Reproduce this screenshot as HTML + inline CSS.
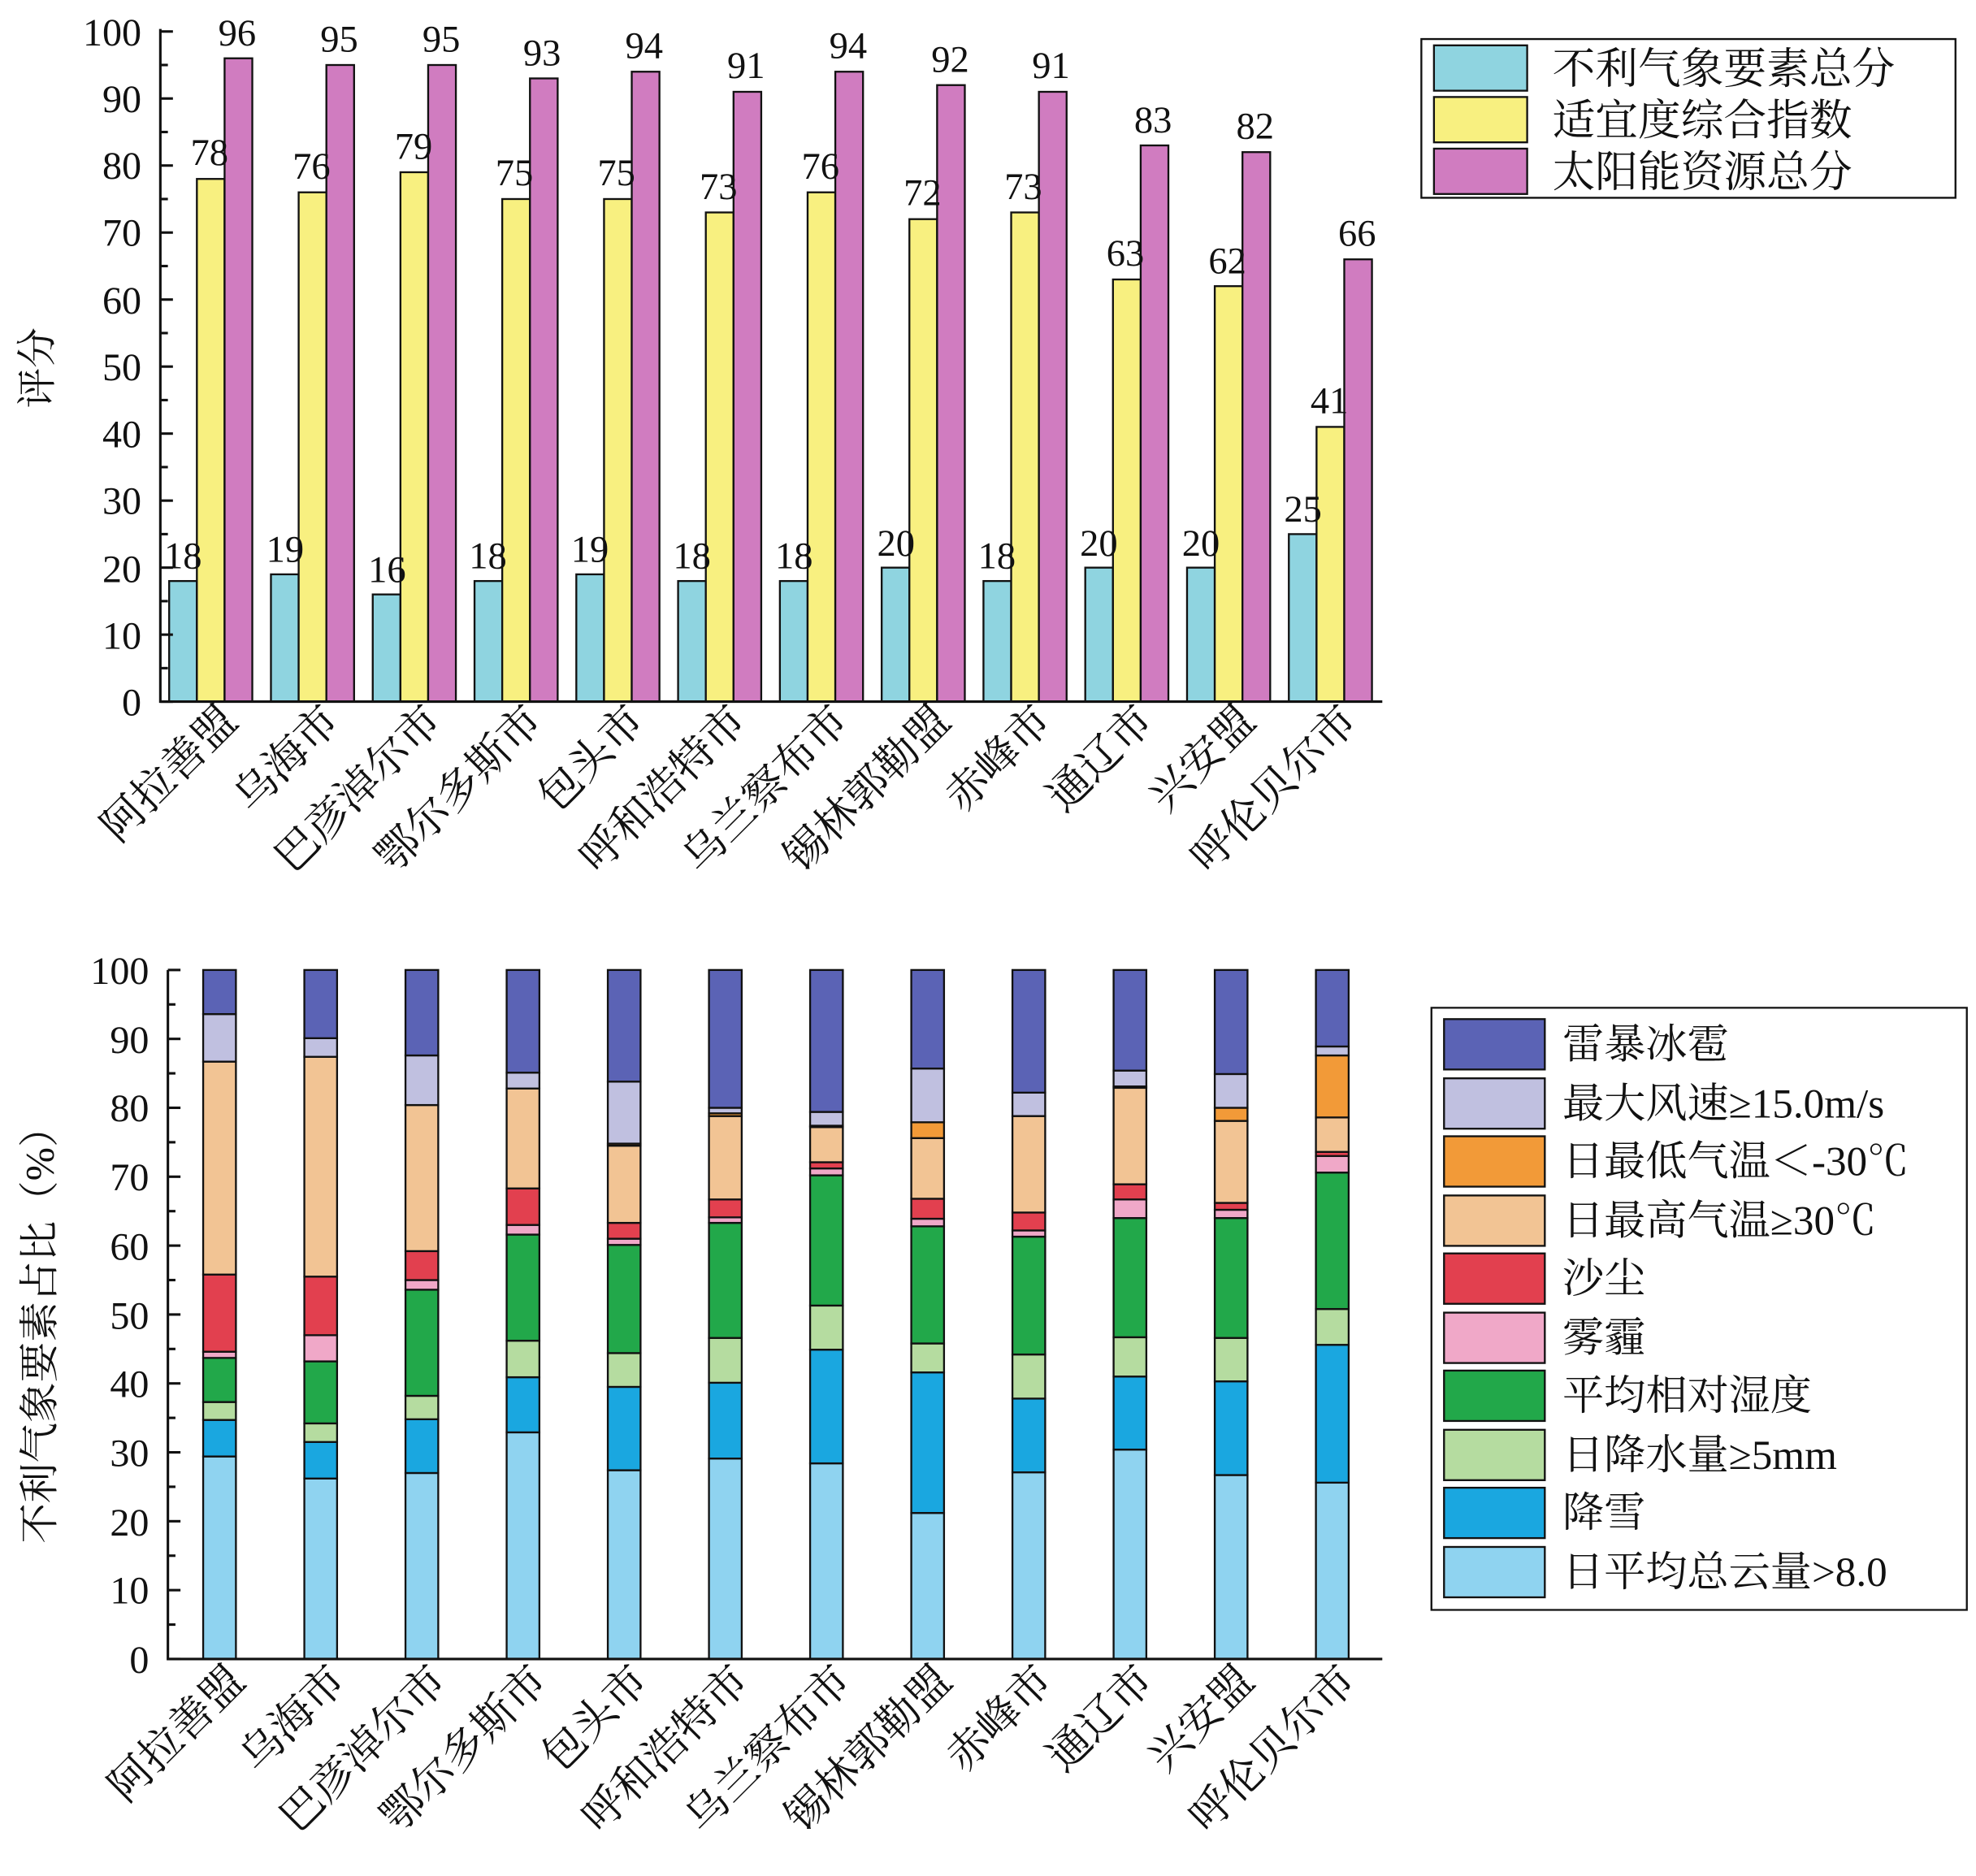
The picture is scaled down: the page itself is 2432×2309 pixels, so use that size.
<!DOCTYPE html>
<html><head><meta charset="utf-8"><style>
html,body{margin:0;padding:0;background:#fff;}
svg text{font-family:"Liberation Serif","Noto Serif CJK SC",serif;fill:#111;}
</style></head><body>
<svg id="s" xmlns="http://www.w3.org/2000/svg" width="2432" height="2304" viewBox="0 0 1568 1486">
<rect width="1568" height="1486" fill="#fff"/>
<g id="gtop"></g>
<g id="gbot"></g>
<g stroke="#111" stroke-width="2" fill="none">
<path d="M127 23 V557 H1097"/>
<path d="M1128 31 H1552 V157 H1128 Z" stroke-width="1.5"/>
<path d="M133 770 V1317 H1097"/>
<path d="M1136 800 H1561 V1278 H1136 Z" stroke-width="1.5"/>
</g>
<g font-size="31" text-anchor="end">
<text x="112" y="568">0</text><text x="112" y="515">10</text><text x="112" y="462">20</text><text x="112" y="408">30</text><text x="112" y="355">40</text><text x="112" y="302">50</text><text x="112" y="249">60</text><text x="112" y="195">70</text><text x="112" y="142">80</text><text x="112" y="89">90</text><text x="112" y="36">100</text>
<text x="118" y="1328">0</text><text x="118" y="1273">10</text><text x="118" y="1219">20</text><text x="118" y="1164">30</text><text x="118" y="1109">40</text><text x="118" y="1055">50</text><text x="118" y="1000">60</text><text x="118" y="945">70</text><text x="118" y="890">80</text><text x="118" y="836">90</text><text x="118" y="781">100</text>
</g>
<text font-size="32" transform="translate(40,292) rotate(-90)" text-anchor="middle">评分</text>
<text font-size="32" transform="translate(42,1052) rotate(-90)" text-anchor="middle">不利气象要素占比（%）</text>
<g font-size="34" text-anchor="end">
<text transform="translate(190,574) rotate(-45)">阿拉善盟</text>
<text transform="translate(271,574) rotate(-45)">乌海市</text>
<text transform="translate(352,574) rotate(-45)">巴彦淖尔市</text>
<text transform="translate(432,574) rotate(-45)">鄂尔多斯市</text>
<text transform="translate(513,574) rotate(-45)">包头市</text>
<text transform="translate(594,574) rotate(-45)">呼和浩特市</text>
<text transform="translate(675,574) rotate(-45)">乌兰察布市</text>
<text transform="translate(756,574) rotate(-45)">锡林郭勒盟</text>
<text transform="translate(836,574) rotate(-45)">赤峰市</text>
<text transform="translate(917,574) rotate(-45)">通辽市</text>
<text transform="translate(998,574) rotate(-45)">兴安盟</text>
<text transform="translate(1079,574) rotate(-45)">呼伦贝尔市</text>
</g>
<g font-size="34" text-anchor="end">
<text transform="translate(196,1336) rotate(-45)">阿拉善盟</text>
<text transform="translate(276,1336) rotate(-45)">乌海市</text>
<text transform="translate(356,1336) rotate(-45)">巴彦淖尔市</text>
<text transform="translate(436,1336) rotate(-45)">鄂尔多斯市</text>
<text transform="translate(516,1336) rotate(-45)">包头市</text>
<text transform="translate(596,1336) rotate(-45)">呼和浩特市</text>
<text transform="translate(677,1336) rotate(-45)">乌兰察布市</text>
<text transform="translate(757,1336) rotate(-45)">锡林郭勒盟</text>
<text transform="translate(837,1336) rotate(-45)">赤峰市</text>
<text transform="translate(917,1336) rotate(-45)">通辽市</text>
<text transform="translate(997,1336) rotate(-45)">兴安盟</text>
<text transform="translate(1078,1336) rotate(-45)">呼伦贝尔市</text>
</g>
<g stroke="#111" stroke-width="1.5">
<rect x="1138" y="36" width="74" height="36" fill="#8fd4e0"/>
<rect x="1138" y="77" width="74" height="36" fill="#f8f080"/>
<rect x="1138" y="118" width="74" height="36" fill="#d07cc0"/>
</g>
<g font-size="34">
<text x="1232" y="66">不利气象要素总分</text>
<text x="1232" y="107">适宜度综合指数</text>
<text x="1232" y="148">太阳能资源总分</text>
</g>
<g stroke="#111" stroke-width="1.5">
<rect x="1146" y="809" width="80" height="40" fill="#5b63b5"/>
<rect x="1146" y="856" width="80" height="40" fill="#c0c0e0"/>
<rect x="1146" y="902" width="80" height="40" fill="#f29a38"/>
<rect x="1146" y="949" width="80" height="40" fill="#f2c494"/>
<rect x="1146" y="995" width="80" height="40" fill="#e2404f"/>
<rect x="1146" y="1042" width="80" height="40" fill="#f0a8c8"/>
<rect x="1146" y="1088" width="80" height="40" fill="#22a84a"/>
<rect x="1146" y="1135" width="80" height="40" fill="#b5dca0"/>
<rect x="1146" y="1181" width="80" height="40" fill="#1aa7e0"/>
<rect x="1146" y="1228" width="80" height="40" fill="#8fd3f0"/>
</g>
<g font-size="33">
<text x="1240" y="840">雷暴冰雹</text>
<text x="1240" y="887">最大风速≥15.0m/s</text>
<text x="1240" y="933">日最低气温＜-30℃</text>
<text x="1240" y="980">日最高气温≥30℃</text>
<text x="1240" y="1026">沙尘</text>
<text x="1240" y="1073">雾霾</text>
<text x="1240" y="1119">平均相对湿度</text>
<text x="1240" y="1166">日降水量≥5mm</text>
<text x="1240" y="1212">降雪</text>
<text x="1240" y="1259">日平均总云量&gt;8.0</text>
</g>
<g font-size="30" text-anchor="middle">
<text x="145" y="451">18</text><text x="166" y="131">78</text><text x="188" y="36">96</text>
<text x="226" y="446">19</text><text x="247" y="142">76</text><text x="269" y="41">95</text>
<text x="307" y="462">16</text><text x="328" y="126">79</text><text x="350" y="41">95</text>
<text x="387" y="451">18</text><text x="408" y="147">75</text><text x="430" y="52">93</text>
<text x="468" y="446">19</text><text x="489" y="147">75</text><text x="511" y="46">94</text>
<text x="549" y="451">18</text><text x="570" y="158">73</text><text x="592" y="62">91</text>
<text x="630" y="451">18</text><text x="651" y="142">76</text><text x="673" y="46">94</text>
<text x="711" y="441">20</text><text x="732" y="163">72</text><text x="754" y="57">92</text>
<text x="791" y="451">18</text><text x="812" y="158">73</text><text x="834" y="62">91</text>
<text x="872" y="441">20</text><text x="893" y="211">63</text><text x="915" y="105">83</text>
<text x="953" y="441">20</text><text x="974" y="217">62</text><text x="996" y="110">82</text>
<text x="1034" y="414">25</text><text x="1055" y="328">41</text><text x="1077" y="195">66</text>
</g>
</svg>
<script>
(function(){
var NS="http://www.w3.org/2000/svg";
function R(g,x,y,w,h,f){var r=document.createElementNS(NS,"rect");r.setAttribute("x",x);r.setAttribute("y",y);r.setAttribute("width",w);r.setAttribute("height",h);r.setAttribute("fill",f);r.setAttribute("stroke","#111");r.setAttribute("stroke-width","1.5");g.appendChild(r);}
function L(g,x1,y1,x2,y2){var l=document.createElementNS(NS,"line");l.setAttribute("x1",x1);l.setAttribute("y1",y1);l.setAttribute("x2",x2);l.setAttribute("y2",y2);l.setAttribute("stroke","#111");l.setAttribute("stroke-width","2");g.appendChild(l);}
var gt=document.getElementById("gtop");
var d=[[18,78,96],[19,76,95],[16,79,95],[18,75,93],[19,75,94],[18,73,91],[18,76,94],[20,72,92],[18,73,91],[20,63,83],[20,62,82],[25,41,66]];
var cols=["#8fd4e0","#f8f080","#d07cc0"];
for(var i=0;i<12;i++){for(var j=0;j<3;j++){var v=d[i][j];var x=134+i*80.8+j*22;R(gt,x,557-v*5.32,22,v*5.32,cols[j]);}}
for(var k=0;k<=20;k++){var y=557-k*26.6;L(gt,127,y,k%2?133:137,y);}
var gb=document.getElementById("gbot");
var s=[[29.4,34.7,37.3,43.7,44.6,55.8,86.7,86.7,93.6],[26.2,31.5,34.2,43.2,47,55.5,87.4,87.4,90.1],[27,34.8,38.2,53.6,55,59.2,80.4,80.4,87.6],[32.9,40.9,46.2,61.6,63,68.3,82.8,82.8,85.1],[27.4,39.5,44.4,60.1,61,63.3,74.5,74.8,83.8],[29.1,40.1,46.6,63.3,64.1,66.7,78.8,79.2,80],[28.4,44.9,51.3,70.2,71.2,72.1,77.2,77.4,79.4],[21.2,41.6,45.8,62.8,63.9,66.8,75.6,77.9,85.7],[27.1,37.8,44.2,61.3,62.2,64.8,78.8,78.8,82.2],[30.4,41,46.7,64,66.7,68.9,82.9,83.1,85.4],[26.7,40.3,46.6,64,65.2,66.2,78.1,80,84.9],[25.6,45.6,50.8,70.6,73,73.6,78.6,87.6,88.9]];
var c2=["#8fd3f0","#1aa7e0","#b5dca0","#22a84a","#f0a8c8","#e2404f","#f2c494","#f29a38","#c0c0e0","#5b63b5"];
for(var i=0;i<12;i++){var prev=0;var arr=s[i].concat([100]);var x=161+i*80.3;for(var j=0;j<10;j++){var t=arr[j];if(t>prev)R(gb,x,1317-t*5.47,26,(t-prev)*5.47,c2[j]);prev=t;}}
for(var k=0;k<=20;k++){var y=1317-k*27.35;L(gb,133,y,k%2?139:143,y);}
})();
</script>
</body></html>
